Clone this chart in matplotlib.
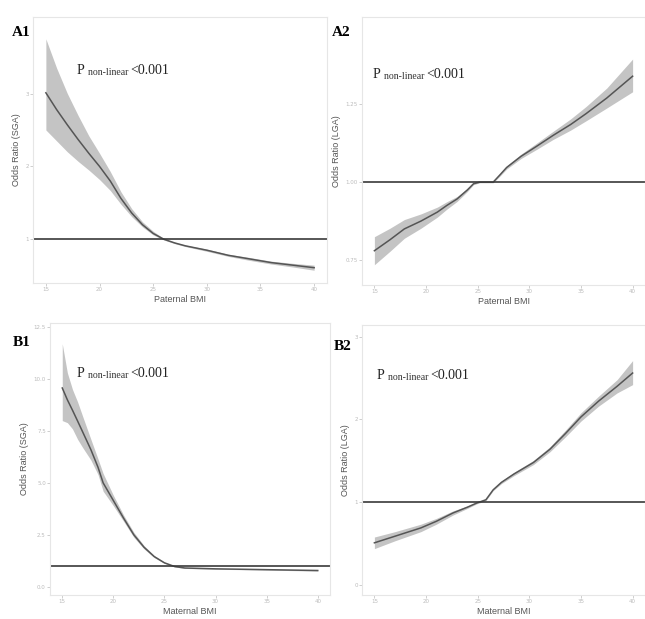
import numpy as np
import matplotlib
matplotlib.use("Agg")
import matplotlib.pyplot as plt

# BMI tick values shared by all panels
bmi_ticks = [15, 20, 25, 30, 35, 40]

# A1: paternal BMI vs SGA
a1_bmi = [15, 16, 17, 18, 19, 20, 21, 22, 23, 24, 25, 26, 27, 28, 30, 32, 34, 36, 38, 40]
a1_or = [3.01, 2.78, 2.57, 2.37, 2.18, 2.0, 1.8, 1.56, 1.36, 1.2, 1.08, 1.0,
         0.95, 0.91, 0.85, 0.78, 0.73, 0.68, 0.645, 0.61]
a1_lo = [2.5, 2.35, 2.2, 2.07, 1.95, 1.82, 1.67, 1.48, 1.31, 1.17, 1.06, 0.99,
         0.94, 0.9, 0.835, 0.765, 0.71, 0.66, 0.62, 0.575]
a1_hi = [3.75, 3.35, 3.0, 2.7, 2.42, 2.18, 1.93, 1.65, 1.42, 1.24, 1.11, 1.01,
         0.96, 0.92, 0.865, 0.795, 0.75, 0.70, 0.67, 0.645]

# A2: paternal BMI vs LGA
a2_bmi = [15, 16.5, 17.9, 19.5, 21.1, 22, 23, 24, 24.6, 25.2, 26.5, 27.2, 27.8,
          29.2, 30.7, 32.3, 34, 35.5, 37.5, 40]
a2_or = [0.78, 0.815, 0.85, 0.875, 0.904, 0.925, 0.946, 0.975, 0.995, 1.0, 1.0,
         1.025, 1.047, 1.083, 1.115, 1.15, 1.185, 1.22, 1.27, 1.34]
a2_lo = [0.735, 0.778, 0.82, 0.852, 0.888, 0.913, 0.938, 0.97, 0.992, 0.998, 0.998,
         1.021, 1.042, 1.076, 1.105, 1.137, 1.167, 1.197, 1.238, 1.29]
a2_hi = [0.825, 0.852, 0.88, 0.898, 0.92, 0.937, 0.954, 0.98, 0.998, 1.002, 1.002,
         1.029, 1.052, 1.09, 1.125, 1.163, 1.203, 1.243, 1.302, 1.395]

# B1: maternal BMI vs SGA
b1_bmi = [15, 15.5, 16, 16.5, 17, 17.8, 18.5, 19, 20, 21, 22, 23, 24, 25, 26,
          27, 30, 35, 40]
b1_or = [9.57, 9.0, 8.5, 7.98, 7.45, 6.6, 5.75, 5.0, 4.15, 3.3, 2.5, 1.9, 1.45,
         1.15, 0.97, 0.9, 0.86, 0.82, 0.78]
b1_lo = [8.0, 7.9, 7.6, 7.1, 6.7, 6.1, 5.4, 4.6, 3.9, 3.15, 2.38, 1.82, 1.4,
         1.12, 0.95, 0.88, 0.84, 0.8, 0.75]
b1_hi = [11.7, 10.3, 9.5, 8.9, 8.2, 7.1, 6.15, 5.45, 4.4, 3.45, 2.62, 1.98, 1.5,
         1.18, 0.99, 0.92, 0.88, 0.84, 0.81]

# B2: maternal BMI vs LGA
b2_bmi = [15, 17, 19.5, 21, 22.6, 24, 24.9, 25.8, 26.5, 27.3, 28.5, 30.4, 32,
          33.5, 35, 36.7, 38.5, 40]
b2_or = [0.51, 0.59, 0.69, 0.77, 0.87, 0.94, 0.99, 1.03, 1.15, 1.24, 1.34, 1.48,
         1.64, 1.83, 2.03, 2.22, 2.40, 2.56]
b2_lo = [0.44, 0.535, 0.645, 0.735, 0.845, 0.925, 0.98, 1.02, 1.14, 1.225, 1.32,
         1.455, 1.61, 1.79, 1.98, 2.16, 2.32, 2.42]
b2_hi = [0.58, 0.645, 0.735, 0.805, 0.895, 0.955, 1.0, 1.04, 1.16, 1.255, 1.36,
         1.505, 1.67, 1.87, 2.08, 2.28, 2.48, 2.71]

W, H = 645, 619
fig = plt.figure(figsize=(W / 100, H / 100), dpi=100)


def px_axes(left, top, right, bottom):
    return fig.add_axes([left / W, 1 - bottom / H, (right - left) / W, (bottom - top) / H])


def panel(box, x, y, lo, hi, ylim, yticks, ylabels, xlabel, ylabel, tag, tag_xy, ptxt_xy):
    ax = px_axes(*box)
    ax.fill_between(x, lo, hi, color="#c4c4c4", lw=0)
    ax.plot(x, y, color="#555555", lw=1.1)
    ax.axhline(1, color="#3a3a3a", lw=1.2)
    ax.set_xlim(13.8, 41.2)
    ax.set_ylim(*ylim)
    ax.set_xticks(bmi_ticks)
    ax.set_xticklabels([str(t) for t in bmi_ticks])
    ax.set_yticks(yticks)
    ax.set_yticklabels(ylabels)
    ax.tick_params(labelsize=4, colors="#bbbbbb", length=2, width=0.5, pad=1)
    for s in ax.spines.values():
        s.set_color("#e6e6e6")
        s.set_linewidth(0.8)
    ax.set_xlabel(xlabel, fontsize=6.5, color="#555555", labelpad=2, family="Liberation Sans")
    ax.set_ylabel(ylabel, fontsize=6.5, color="#555555", labelpad=3, family="Liberation Sans")
    fig.text(tag_xy[0] / W, 1 - tag_xy[1] / H, tag, fontsize=11, fontweight="bold",
             family="Liberation Serif", va="center", ha="left")
    # "P non-linear <0.001" with a smaller middle part
    t1 = fig.text(ptxt_xy[0] / W, 1 - ptxt_xy[1] / H, "P ", fontsize=10,
                  family="Liberation Serif", va="baseline", ha="left", color="#222222")
    t2 = ax.annotate("non-linear ", xy=(1, 0), xycoords=t1, va="bottom", ha="left",
                     fontsize=7, family="Liberation Serif", color="#333333")
    ax.annotate("<0.001", xy=(1, 0), xycoords=t2, va="bottom", ha="left",
                fontsize=10, family="Liberation Serif", color="#222222")
    return ax


panel((33, 17, 327, 283), a1_bmi, a1_or, a1_lo, a1_hi, (0.4, 4.05),
      [1, 2, 3], ["1", "2", "3"], "Paternal BMI", "Odds Ratio (SGA)",
      "A1", (12, 33), (77, 74))
panel((362, 17, 645, 285), a2_bmi, a2_or, a2_lo, a2_hi, (0.67, 1.53),
      [0.75, 1.0, 1.25], ["0.75", "1.00", "1.25"], "Paternal BMI", "Odds Ratio (LGA)",
      "A2", (332, 33), (373, 78))
panel((50, 323, 330, 595), b1_bmi, b1_or, b1_lo, b1_hi, (-0.4, 12.7),
      [0, 2.5, 5, 7.5, 10, 12.5], ["0.0", "2.5", "5.0", "7.5", "10.0", "12.5"],
      "Maternal BMI", "Odds Ratio (SGA)", "B1", (13, 342), (77, 377))
panel((362, 325, 645, 595), b2_bmi, b2_or, b2_lo, b2_hi, (-0.12, 3.14),
      [0, 1, 2, 3], ["0", "1", "2", "3"], "Maternal BMI", "Odds Ratio (LGA)",
      "B2", (334, 347), (377, 379))

fig.savefig("out.png", dpi=100)
